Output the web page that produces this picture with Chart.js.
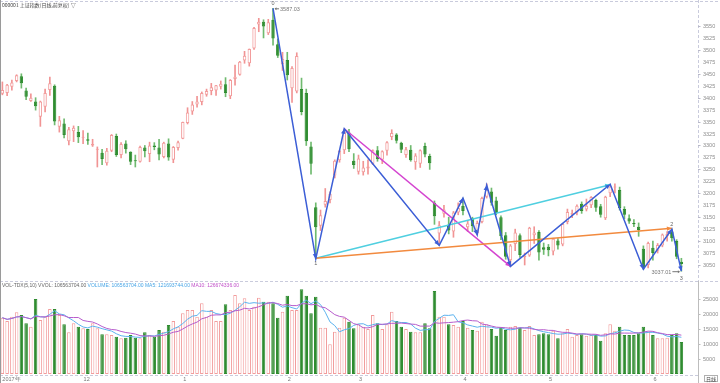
<!DOCTYPE html>
<html><head><meta charset="utf-8">
<script src="https://cdn.jsdelivr.net/npm/chart.js@4/dist/chart.umd.min.js"></script>
<style>
html,body{margin:0;padding:0;background:#fff;width:720px;height:383px;overflow:hidden;}
#wrap{position:relative;width:720px;height:383px;background:#fff;}
canvas{position:absolute;left:0;}
#c1{top:0;} #c2{top:281px;}
.txt{position:absolute;font-family:"Liberation Sans","Noto Sans CJK SC",sans-serif;font-size:5.5px;line-height:6px;white-space:nowrap;color:#444;}
#lb{position:absolute;left:0;top:0;width:1px;height:383px;background:#9a9a9a;}
</style></head><body>
<div id="wrap">
<canvas id="c1" width="720" height="281"></canvas>
<canvas id="c2" width="720" height="102"></canvas>
<div id="lb"></div>
<div class="txt" style="left:2px;top:2px;font-family:'Noto Sans CJK SC',sans-serif;font-size:5px;">000001 上证指数(日线,前复权) ▽</div>
<div class="txt" style="left:2px;top:282px;color:#666;font-size:5px;">VOL-TDX(5,10) VVOL: 106563704.00 <span style="color:#4aa6e6">VOLUME: 106563704.00</span> <span style="color:#4aa6e6">MA5: 121693744.00</span> <span style="color:#c050c8">MA10: 126674336.00</span></div>
<div class="txt" style="left:704px;top:375px;border:1px solid #b0b0b0;padding:0 1px;line-height:5px;font-size:5px;font-family:'Noto Sans CJK SC',sans-serif;">日线</div>
</div>
<script>
// ---- categories (trading days) ----
const daysNov=[8,9,10,13,14,15,16,17,20,21,22,23,24,27,28,29,30];
const daysDec=[1,4,5,6,7,8,11,12,13,14,15,18,19,20,21,22,25,26,27,28,29];
const daysJan=[2,3,4,5,8,9,10,11,12,15,16,17,18,19,22,23,24,25,26,29,30,31];
const daysFeb=[1,2,5,6,7,8,9,12,13,14,22,23,26,27,28];
const daysMar=[1,2,5,6,7,8,9,12,13,14,15,16,19,20,21,22,23,26,27,28,29,30];
const daysApr=[2,3,4,9,10,11,12,13,16,17,18,19,20,23,24,25,26,27];
const daysMay=[2,3,4,7,8,9,10,11,14,15,16,17,18,21,22,23,24,25,28,29,30,31];
const daysJun=[1,4,5,6,7,8,11];

// ---- series ----
const openP=[3408,3410,3423,3435,3445,3415,3393,3392,3360,3381,3416,3425,3339,3346,3309,3330,3328,
3316,3313,3300,3291,3285,3263,3289,3320,3280,3304,3287,3268,3266,3296,3282,3300,3296,3276,3304,3270,3295,
3314,3347,3371,3386,3391,3406,3414,3415,3423,3428,3403,3439,3448,3478,3472,3503,3553,3559,3535,3563,3512,3470,
3479,3420,3413,3418,3410,3298,3171,3132,3176,3186,3237,3269,3290,3327,3268,
3245,3244,3252,3262,3290,3270,3289,3318,3323,3306,3280,3291,3265,3262,3299,3278,3180,3116,3157,3134,3120,3160,
3174,3129,3148,3117,3140,3193,3204,3185,3150,3112,3060,3094,3112,3066,3070,3112,3119,3087,
3088,3078,3101,3093,3140,3155,3160,3178,3166,3175,3186,3173,3148,3200,3212,3207,3167,3148,3138,3130,3084,3050,
3086,3080,3091,3110,3120,3100,3057];
const highP=[3433,3428,3437,3448,3450,3420,3408,3400,3393,3418,3443,3427,3361,3356,3338,3341,3340,
3331,3326,3313,3297,3292,3294,3323,3324,3306,3310,3287,3280,3299,3300,3307,3306,3313,3307,3314,3298,3309,
3349,3379,3392,3403,3412,3418,3430,3426,3435,3442,3438,3468,3476,3497,3502,3547,3566,3563,3564,3587.03,3523,3495,
3495,3465,3494,3441,3418,3307,3180,3165,3210,3203,3270,3290,3335,3334,3283,
3280,3267,3270,3291,3298,3289,3308,3333,3325,3307,3296,3300,3283,3291,3305,3282,3184,3141,3175,3150,3162,3180,
3190,3143,3150,3142,3192,3220,3211,3192,3153,3118,3093,3125,3115,3075,3129,3130,3122,3096,
3093,3106,3105,3137,3167,3165,3176,3182,3188,3193,3188,3177,3194,3219,3220,3213,3172,3155,3145,3138,3090,3098,
3100,3095,3115,3120,3125,3103,3064];
const lowP=[3406,3404,3416,3433,3420,3396,3392,3374,3340,3370,3405,3343,3328,3316,3301,3308,3306,
3304,3302,3298,3255,3260,3259,3287,3277,3274,3284,3260,3255,3265,3276,3266,3291,3270,3274,3269,3264,3290,
3314,3345,3365,3380,3385,3403,3406,3405,3418,3402,3398,3426,3447,3472,3466,3501,3538,3525,3532,3510,3484,3457,
3437,3390,3410,3364,3300,3240,3062.74,3122,3171,3180,3232,3265,3283,3287,3252,
3240,3238,3240,3260,3267,3262,3280,3312,3305,3285,3275,3267,3250,3254,3276,3250,3135,3091,3150,3115,3108,3155,
3155,3120,3120,3113,3138,3190,3175,3155,3103,3062,3047,3080,3066,3050,3068,3095,3060,3072,
3069,3071,3083,3090,3136,3149,3155,3158,3163,3170,3162,3150,3145,3193,3201,3165,3147,3137,3130,3110,3041,3044,
3060,3075,3088,3100,3100,3063,3037.01];
const closeP=[3416,3427,3432,3447,3430,3402,3400,3382,3392,3410,3430,3350,3353,3322,3334,3337,3317,
3318,3310,3303,3293,3272,3289,3322,3280,3303,3292,3266,3267,3297,3288,3300,3297,3281,3306,3275,3297,3307,
3349,3369,3386,3392,3410,3414,3422,3426,3429,3410,3437,3444,3475,3488,3502,3546,3559,3549,3558,3524,3488,3481,
3447,3462,3487,3370,3309,3262,3129,3154,3184,3199,3268,3289,3329,3292,3259,
3273,3254,3256,3290,3271,3288,3307,3326,3310,3291,3292,3269,3279,3290,3281,3263,3152,3133,3166,3122,3160,3169,
3163,3137,3131,3138,3190,3208,3180,3159,3110,3067,3091,3118,3071,3069,3128,3118,3076,3082,
3081,3105,3091,3136,3161,3159,3174,3163,3174,3192,3170,3155,3193,3214,3214,3169,3155,3141,3135,3123,3043,3096,
3075,3092,3114,3115,3106,3067,3052];
// volume in 10k units
const volume=[18770,17670,19100,20560,19670,16900,15770,25000,18000,19100,21670,21670,19670,16560,13890,16900,15770,
15220,15000,16900,15220,13220,13220,13000,12440,11890,12110,13000,12110,11890,13890,13000,12440,14670,14110,16330,17670,15770,
20220,21330,21330,19100,23560,19100,21330,17670,17670,23220,21330,26330,23560,25220,21330,22440,25440,24110,24110,23560,18780,20780,
26110,21330,21330,28220,26110,20220,25780,15440,15440,9890,14110,15440,18780,17440,15220,
16560,15770,15000,19670,16900,15000,16560,20780,17670,15770,15000,14110,13890,13890,16900,15220,27670,19100,19100,16560,16330,15770,
17670,15440,14670,14440,17440,16560,15000,12780,15440,14670,15770,16000,15440,14670,16000,13000,13220,13560,
13220,14440,11890,13560,15000,12440,13000,13220,12780,13000,13000,11110,13560,16560,14440,15770,13000,13000,13000,13560,15770,14110,
13000,11890,11890,12110,13000,13560,10656];

// drawn trend lines (index of trading day, price)
const zigzagIdx=[57,66,72,92,97,100,102,107,128,135,141,143];
const zigzagVal=[3587.03,3062.74,3335,3091,3190,3113,3217,3047,3219,3041,3125,3037.01];
const cyanIdx=[66,128], cyanVal=[3064,3218];
const magentaIdx=[72,107], magentaVal=[3335,3047];
const orangeIdx=[66,141], orangeVal=[3064,3127];
const waveMarks=[{i:57,v:3587.03,t:'0',dy:-5},{i:66,v:3062.74,t:'1',dy:5},{i:141,v:3125,t:'2',dy:-5},{i:143,v:3037.01,t:'3',dy:7}];
const extremeMarks=[{i:57,v:3587.03,side:1},{i:143,v:3037.01,side:-1}];

// axis tick labels
const priceTicks=[3550,3525,3500,3475,3450,3425,3400,3375,3350,3325,3300,3275,3250,3225,3200,3175,3150,3125,3100,3075,3050];
const volTicks=[25000,20000,15000,10000,5000];
const monthTicks=[{i:0,t:'2017年'},{i:17,t:'12'},{i:38,t:'1'},{i:60,t:'2'},{i:75,t:'3'},{i:97,t:'4'},{i:115,t:'5'},{i:137,t:'6'}];

// ---- build ----
const pad=n=>String(n).padStart(2,'0');
const labels=[].concat(
 daysNov.map(d=>'2017-11-'+pad(d)),daysDec.map(d=>'2017-12-'+pad(d)),
 daysJan.map(d=>'2018-01-'+pad(d)),daysFeb.map(d=>'2018-02-'+pad(d)),
 daysMar.map(d=>'2018-03-'+pad(d)),daysApr.map(d=>'2018-04-'+pad(d)),
 daysMay.map(d=>'2018-05-'+pad(d)),daysJun.map(d=>'2018-06-'+pad(d)),['','','']);
const N=openP.length;
const isUp=i=>closeP[i]>=openP[i];
const sparse=(idx,vals)=>{const a=new Array(N).fill(null);idx.forEach((k,j)=>a[k]=vals[j]);return a;};
const maOf=(n)=>volume.map((v,i)=>{const s=volume.slice(Math.max(0,i-n+1),i+1);return s.reduce((a,b)=>a+b,0)/s.length;});

const UP='#f29c9c', UPW='#f19494', DN='#2f8c30', DNW='#6fba6f';
Chart.defaults.font.family='"Liberation Sans", sans-serif';

const xCfg={type:'category',offset:true,display:false,grid:{display:false}};

const arrowPlugin={id:'arrows',afterDatasetsDraw(chart){
  const ctx=chart.ctx;const xs=chart.scales.x, ys=chart.scales.y;
  chart.data.datasets.forEach(ds=>{
    if(!ds.arrowHeads) return;
    const pts=[];ds.data.forEach((v,i)=>{if(v!==null)pts.push([xs.getPixelForValue(i),ys.getPixelForValue(v)]);});
    ctx.save();ctx.fillStyle=ds.borderColor;
    for(let k=1;k<pts.length;k++){
      const [x0,y0]=pts[k-1],[x1,y1]=pts[k];const a=Math.atan2(y1-y0,x1-x0);
      const L=5,W=2.2;
      ctx.beginPath();ctx.moveTo(x1,y1);
      ctx.lineTo(x1-L*Math.cos(a)+W*Math.sin(a),y1-L*Math.sin(a)-W*Math.cos(a));
      ctx.lineTo(x1-L*Math.cos(a)-W*Math.sin(a),y1-L*Math.sin(a)+W*Math.cos(a));
      ctx.closePath();ctx.fill();
    }
    ctx.restore();
  });
}};

const priceDeco={id:'priceDeco',afterDraw(chart){
  const ctx=chart.ctx, xs=chart.scales.x, ys=chart.scales.y, a=chart.chartArea;
  ctx.save();
  ctx.strokeStyle='#c9cbdc';ctx.lineWidth=1;ctx.setLineDash([3,2]);
  ctx.beginPath();ctx.moveTo(0,1.5);ctx.lineTo(720,1.5);ctx.stroke();
  ctx.beginPath();ctx.moveTo(a.right+0.5,0);ctx.lineTo(a.right+0.5,281);ctx.stroke();
  ctx.setLineDash([]);
  ctx.font='5.5px "Liberation Sans"';ctx.fillStyle='#8c8c8c';ctx.textBaseline='middle';ctx.textAlign='left';
  priceTicks.forEach((v,k)=>{const py=Math.round(ys.getPixelForValue(v))+0.5;
    ctx.fillText(String(v),a.right+5,py);
    if(k%2===0){ctx.strokeStyle='#b8b8c8';ctx.beginPath();ctx.moveTo(a.right,py);ctx.lineTo(a.right+2.5,py);ctx.stroke();}
  });
  ctx.fillStyle='#666';ctx.textAlign='center';
  waveMarks.forEach(m=>{ctx.fillText(m.t,xs.getPixelForValue(m.i),ys.getPixelForValue(m.v)+m.dy);});
  ctx.strokeStyle='#777';ctx.fillStyle='#777';
  extremeMarks.forEach(m=>{
    const px=xs.getPixelForValue(m.i), py=ys.getPixelForValue(m.v)+0.5;
    const txt=m.v.toFixed(2);
    if(m.side>0){
      ctx.beginPath();ctx.moveTo(px+2,py);ctx.lineTo(px+6,py);ctx.stroke();
      ctx.beginPath();ctx.moveTo(px+1.5,py);ctx.lineTo(px+3.5,py-1.5);ctx.lineTo(px+3.5,py+1.5);ctx.fill();
      ctx.textAlign='left';ctx.fillText(txt,px+7,py+0.5);
    } else {
      ctx.beginPath();ctx.moveTo(px-9,py);ctx.lineTo(px-2,py);ctx.stroke();
      ctx.beginPath();ctx.moveTo(px-1.5,py);ctx.lineTo(px-3.5,py-1.5);ctx.lineTo(px-3.5,py+1.5);ctx.fill();
      ctx.textAlign='right';ctx.fillText(txt,px-10,py+0.5);
    }
  });
  ctx.restore();
}};

const lineDs=(data,color,w,order)=>({type:'line',data,borderColor:color,backgroundColor:color,borderWidth:w,pointRadius:0,spanGaps:true,tension:0,order,arrowHeads:true});

new Chart(document.getElementById('c1'),{
  type:'bar',
  data:{labels,datasets:[
    {type:'bar',data:lowP.map((l,i)=>[l,highP[i]]),barThickness:1,grouped:false,order:5,
     backgroundColor:highP.map((_,i)=>isUp(i)?UPW:DNW),borderWidth:0},
    {type:'bar',data:openP.map((o,i)=>[o,closeP[i]]),barPercentage:0.72,categoryPercentage:1,grouped:false,order:4,
     minBarLength:1,borderSkipped:false,borderWidth:1,
     backgroundColor:openP.map((_,i)=>isUp(i)?'#ffffff':DN),borderColor:openP.map((_,i)=>isUp(i)?UP:DN)},
    lineDs(sparse(magentaIdx,magentaVal),'#d444d0',1.5,3),
    lineDs(sparse(cyanIdx,cyanVal),'#4fcfe0',1.5,2),
    lineDs(sparse(orangeIdx,orangeVal),'#f28a3e',1.5,1),
    lineDs(sparse(zigzagIdx,zigzagVal),'#3c5ed6',1.5,0)
  ]},
  options:{responsive:false,animation:false,devicePixelRatio:1,
    layout:{padding:{left:0,right:22,top:0,bottom:0}},
    plugins:{legend:{display:false},tooltip:{enabled:false}},
    scales:{x:xCfg,y:{type:'linear',display:false,min:3016.5,max:3604.4}}},
  plugins:[arrowPlugin,priceDeco]
});

const volDeco={id:'volDeco',afterDraw(chart){
  const ctx=chart.ctx, xs=chart.scales.x, ys=chart.scales.y, a=chart.chartArea;
  ctx.save();
  ctx.strokeStyle='#c9cbdc';ctx.lineWidth=1;ctx.setLineDash([3,2]);
  ctx.beginPath();ctx.moveTo(0,0.5);ctx.lineTo(720,0.5);ctx.stroke();
  ctx.beginPath();ctx.moveTo(0,a.bottom+1.5);ctx.lineTo(a.right,a.bottom+1.5);ctx.stroke();
  ctx.setLineDash([]);ctx.strokeStyle='#bdbdbd';
  ctx.beginPath();ctx.moveTo(a.right+0.5,0);ctx.lineTo(a.right+0.5,102);ctx.stroke();
  ctx.font='5.5px "Liberation Sans"';ctx.fillStyle='#8c8c8c';ctx.textBaseline='middle';ctx.textAlign='left';
  volTicks.forEach(v=>{const py=Math.round(ys.getPixelForValue(v))+0.5;ctx.fillText(String(v),a.right+5,py);
    ctx.beginPath();ctx.moveTo(a.right,py);ctx.lineTo(a.right+2.5,py);ctx.stroke();});
  ctx.fillStyle='#777';
  monthTicks.forEach(m=>{const px=Math.max(2,xs.getPixelForValue(m.i)+ (m.i===0?0:0.5));ctx.fillText(m.t,px,a.bottom+5.5);});
  ctx.restore();
}};

new Chart(document.getElementById('c2'),{
  type:'bar',
  data:{labels,datasets:[
    {type:'line',data:maOf(5),borderColor:'#5cb2ee',borderWidth:1,pointRadius:0,tension:0,order:1},
    {type:'line',data:maOf(10),borderColor:'#b65ccc',borderWidth:1,pointRadius:0,tension:0,order:0},
    {type:'bar',data:volume,barPercentage:0.74,categoryPercentage:1,borderSkipped:false,borderWidth:1,order:3,
     backgroundColor:volume.map((_,i)=>isUp(i)?'#ffffff':DN),borderColor:volume.map((_,i)=>isUp(i)?UP:DN)}
  ]},
  options:{responsive:false,animation:false,devicePixelRatio:1,
    layout:{padding:{left:0,right:22,top:8,bottom:9}},
    plugins:{legend:{display:false},tooltip:{enabled:false}},
    scales:{x:xCfg,y:{type:'linear',display:false,min:0,max:28333}}},
  plugins:[volDeco]
});
</script>
</body></html>
